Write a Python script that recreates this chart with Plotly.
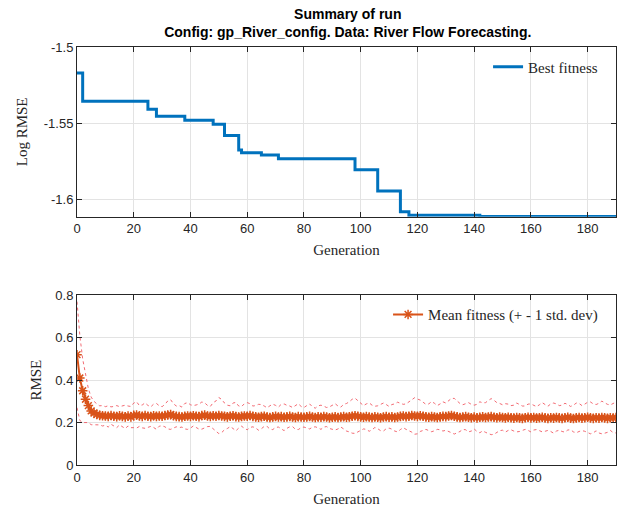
import plotly.graph_objects as go

# ---- data ----
best_gen = [0, 2, 25, 28, 38, 48, 52, 57, 58, 65, 71, 98, 106, 114, 117, 142, 190]
best_val = [-1.517, -1.5355, -1.5407, -1.5453, -1.5479, -1.5505, -1.558, -1.5675,
            -1.5692, -1.5707, -1.5731, -1.5803, -1.5942, -1.6079, -1.6102, -1.6109, -1.6109]

generations = list(range(0, 191))
mean_fit = [
    0.52, 0.41, 0.35, 0.31, 0.28, 0.255, 0.245, 0.238, 0.234, 0.232,
    0.231, 0.229, 0.233, 0.230, 0.228, 0.232, 0.229, 0.227, 0.231, 0.226,
    0.234, 0.236, 0.231, 0.229, 0.233, 0.230, 0.228, 0.232, 0.229, 0.231,
    0.230, 0.233, 0.236, 0.238, 0.232, 0.229, 0.228, 0.226, 0.230, 0.231,
    0.229, 0.232, 0.230, 0.228, 0.233, 0.235, 0.231, 0.229, 0.232, 0.230,
    0.233, 0.231, 0.229, 0.227, 0.230, 0.232, 0.228, 0.226, 0.229, 0.231,
    0.230, 0.233, 0.229, 0.227, 0.225, 0.228, 0.230, 0.226, 0.224, 0.227,
    0.229, 0.226, 0.228, 0.225, 0.227, 0.229, 0.226, 0.224, 0.228, 0.226,
    0.225, 0.227, 0.229, 0.226, 0.224, 0.227, 0.225, 0.228, 0.226, 0.223,
    0.225, 0.227, 0.224, 0.226, 0.228, 0.225, 0.227, 0.230, 0.232, 0.229,
    0.227, 0.225, 0.228, 0.226, 0.224, 0.227, 0.225, 0.223, 0.226, 0.228,
    0.225, 0.227, 0.224, 0.226, 0.229, 0.231, 0.228, 0.230, 0.233, 0.231,
    0.229, 0.232, 0.230, 0.227, 0.225, 0.228, 0.226, 0.224, 0.227, 0.229,
    0.228, 0.231, 0.233, 0.230, 0.227, 0.224, 0.226, 0.228, 0.225, 0.223,
    0.226, 0.222, 0.225, 0.227, 0.224, 0.226, 0.228, 0.225, 0.223, 0.226,
    0.224, 0.222, 0.225, 0.223, 0.221, 0.224, 0.222, 0.220, 0.223, 0.225,
    0.222, 0.224, 0.221, 0.223, 0.225, 0.222, 0.220, 0.223, 0.221, 0.224,
    0.222, 0.220, 0.223, 0.225, 0.221, 0.219, 0.222, 0.224, 0.221, 0.223,
    0.225, 0.222, 0.220, 0.223, 0.221, 0.224, 0.222, 0.220, 0.223, 0.221,
    0.224,
]
std_fit = [
    0.25, 0.20, 0.15, 0.11, 0.08, 0.065, 0.055, 0.050, 0.045, 0.048,
    0.044, 0.050, 0.041, 0.046, 0.052, 0.043, 0.048, 0.055, 0.047, 0.050,
    0.058, 0.062, 0.049, 0.054, 0.060, 0.051, 0.046, 0.055, 0.061, 0.048,
    0.045, 0.053, 0.066, 0.070, 0.057, 0.049, 0.052, 0.047, 0.060, 0.063,
    0.055, 0.048, 0.053, 0.059, 0.064, 0.058, 0.050, 0.047, 0.062, 0.072,
    0.085, 0.078, 0.063, 0.055, 0.049, 0.060, 0.067, 0.052, 0.046, 0.058,
    0.064, 0.056, 0.049, 0.053, 0.061, 0.057, 0.048, 0.044, 0.055, 0.060,
    0.052, 0.047, 0.058, 0.063, 0.054, 0.049, 0.045, 0.056, 0.061, 0.050,
    0.046, 0.053, 0.059, 0.048, 0.044, 0.052, 0.057, 0.049, 0.045, 0.051,
    0.056, 0.062, 0.054, 0.047, 0.058, 0.065, 0.071, 0.080, 0.083, 0.074,
    0.063, 0.055, 0.060, 0.067, 0.058, 0.050, 0.054, 0.061, 0.066, 0.057,
    0.051, 0.058, 0.064, 0.070, 0.062, 0.055, 0.060, 0.068, 0.078, 0.086,
    0.082, 0.074, 0.066, 0.059, 0.063, 0.071, 0.065, 0.056, 0.061, 0.069,
    0.064, 0.072, 0.081, 0.084, 0.075, 0.066, 0.058, 0.062, 0.069, 0.063,
    0.056, 0.064, 0.073, 0.066, 0.070, 0.078, 0.085, 0.080, 0.071, 0.064,
    0.060, 0.067, 0.062, 0.057, 0.061, 0.068, 0.064, 0.058, 0.055, 0.062,
    0.066, 0.059, 0.054, 0.061, 0.069, 0.063, 0.057, 0.065, 0.071, 0.064,
    0.058, 0.062, 0.068, 0.060, 0.055, 0.063, 0.070, 0.066, 0.059, 0.064,
    0.071, 0.075, 0.068, 0.062, 0.070, 0.077, 0.072, 0.066, 0.060, 0.068,
    0.073,
]
upper_fit = [m + s for m, s in zip(mean_fit, std_fit)]
lower_fit = [m - s for m, s in zip(mean_fit, std_fit)]

x_ticks = [0, 20, 40, 60, 80, 100, 120, 140, 160, 180]
top_y_ticks = [-1.5, -1.55, -1.6]
top_y_text = ["-1.5", "-1.55", "-1.6"]
bot_y_ticks = [0, 0.2, 0.4, 0.6, 0.8]
bot_y_text = ["0", "0.2", "0.4", "0.6", "0.8"]

BLUE = "#0072BD"
ORANGE = "#D95319"
DOT = "rgba(240,80,90,0.85)"
AX = "#262626"
GRID = "#e3e3e3"
SERIF = "Liberation Serif"
SANS = "Liberation Sans, Arial"

fig = go.Figure()

fig.add_trace(go.Scatter(
    x=best_gen, y=best_val, mode="lines", line=dict(color=BLUE, width=3, shape="hv"),
    name="Best fitness", xaxis="x", yaxis="y", legend="legend", cliponaxis=True,
))

fig.add_trace(go.Scatter(
    x=generations, y=upper_fit, mode="lines", line=dict(color=DOT, width=1, dash="dot"),
    showlegend=False, xaxis="x2", yaxis="y2", hoverinfo="skip",
))
fig.add_trace(go.Scatter(
    x=generations, y=lower_fit, mode="lines", line=dict(color=DOT, width=1, dash="dot"),
    showlegend=False, xaxis="x2", yaxis="y2", hoverinfo="skip",
))
fig.add_trace(go.Scatter(
    x=generations, y=mean_fit, mode="lines+markers",
    line=dict(color=ORANGE, width=2),
    marker=dict(symbol="asterisk-open", size=8, color=ORANGE, line=dict(color=ORANGE, width=1.5)),
    name="Mean fitness (+ - 1 std. dev)", xaxis="x2", yaxis="y2", legend="legend2",
))

axis_common = dict(
    showline=True, linecolor=AX, linewidth=1, mirror="ticks",
    ticks="inside", ticklen=5, tickcolor=AX, tickwidth=1,
    showgrid=True, gridcolor=GRID, gridwidth=1, zeroline=False, automargin=False,
    tickfont=dict(family=SANS, size=13, color=AX),
)

fig.update_layout(
    width=621, height=511,
    margin=dict(l=77, r=5, t=47, b=46),
    paper_bgcolor="white", plot_bgcolor="white",
    title=dict(
        text="<b>Summary of run</b><br><b>Config: gp_River_config. Data: River Flow Forecasting.</b>",
        font=dict(family=SANS, size=14, color="black"),
        x=0.56, xanchor="center", y=0.9624, yanchor="middle", yref="container",
    ),
    xaxis=dict(domain=[0, 1], anchor="y", range=[0, 190], tickvals=x_ticks,
               title=dict(text="Generation", font=dict(family=SERIF, size=15, color=AX), standoff=9),
               **axis_common),
    yaxis=dict(domain=[0.594, 1], anchor="x", range=[-1.6111, -1.5], tickvals=top_y_ticks,
               ticktext=top_y_text,
               title=dict(text="Log RMSE", font=dict(family=SERIF, size=15, color=AX), standoff=12),
               **axis_common),
    xaxis2=dict(domain=[0, 1], anchor="y2", range=[0, 190], tickvals=x_ticks,
                title=dict(text="Generation", font=dict(family=SERIF, size=15, color=AX), standoff=9),
                **axis_common),
    yaxis2=dict(domain=[0, 0.406], anchor="x2", range=[0, 0.8], tickvals=bot_y_ticks,
                ticktext=bot_y_text,
                title=dict(text="RMSE", font=dict(family=SERIF, size=15, color=AX), standoff=10),
                **axis_common),
    legend=dict(x=0.976, xanchor="right", y=0.952, yanchor="middle",
                bgcolor="rgba(255,255,255,0)", borderwidth=0,
                font=dict(family=SERIF, size=15, color=AX)),
    legend2=dict(x=0.976, xanchor="right", y=0.3596, yanchor="middle",
                 bgcolor="rgba(255,255,255,0)", borderwidth=0,
                 font=dict(family=SERIF, size=15, color=AX)),
    showlegend=True,
)

fig.write_html("out.html", config={"displayModeBar": False},
               post_script="document.body.style.margin='0px';")
